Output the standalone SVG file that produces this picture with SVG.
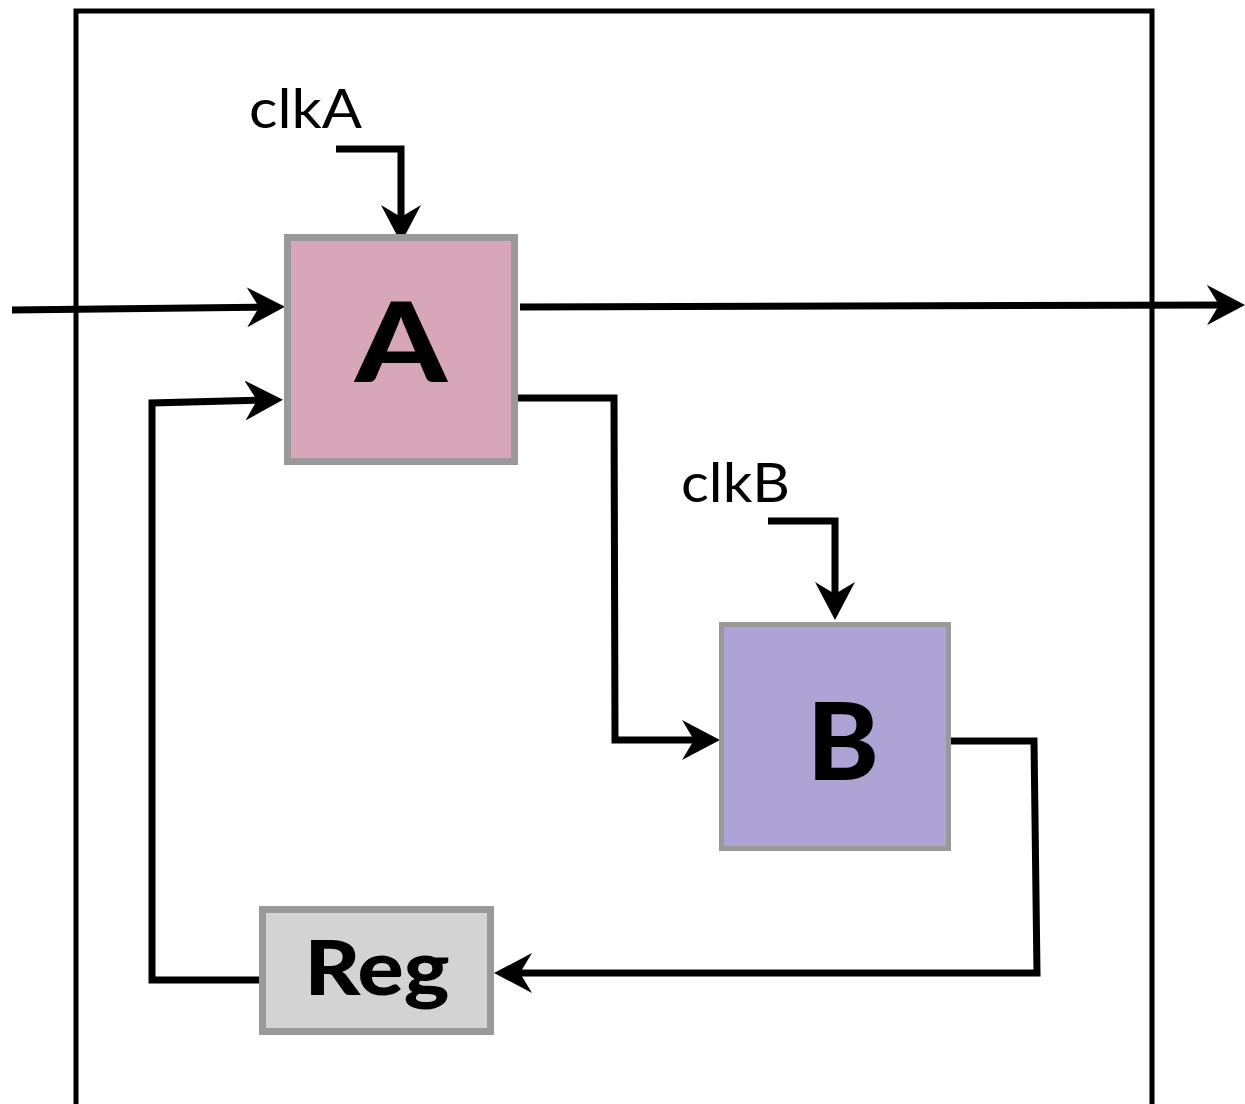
<svg xmlns="http://www.w3.org/2000/svg" width="1245" height="1104" viewBox="0 0 1245 1104">
  <style>
    .wire { fill: none; stroke: #000; stroke-width: 7; stroke-linejoin: miter; }
    .arrow { marker-end: url(#head); }
    .block { stroke: #999; }
    .big { font-family: Lato, "Open Sans", sans-serif; font-weight: 900; fill: #000; text-anchor: middle; }
    .clk { font-family: Lato, "Open Sans", sans-serif; font-size: 55px; fill: #000; }
  </style>
  <defs>
    <!-- concave arrowhead; the tip sits 14px past the wire end -->
    <marker id="head" markerUnits="userSpaceOnUse" viewBox="0 0 38 40" markerWidth="38" markerHeight="40" refX="24" refY="20" orient="auto">
      <path d="M38,20 L0,0 L12,20 L0,40 Z" fill="#000"/>
    </marker>
  </defs>

  <rect width="1245" height="1104" fill="#fff"/>

  <!-- enclosing frame, open at the bottom -->
  <path d="M76,1110 L76,11 L1152,11 L1152,1110" fill="none" stroke="#000" stroke-width="5"/>

  <g id="connectors">
    <!-- primary input into A -->
    <path class="wire arrow" d="M12,310 L271,307"/>
    <!-- output of A leaving the frame -->
    <path class="wire arrow" d="M520,307 L1231,305"/>
    <!-- clock A -->
    <path class="wire arrow" d="M336,149 L401,149 L401,229"/>
    <!-- A to B -->
    <path class="wire arrow" d="M515,398 L614,398 L615,740 L706,740"/>
    <!-- clock B -->
    <path class="wire arrow" d="M768,521 L835,521 L835,606"/>
    <!-- B back through Reg -->
    <path class="wire arrow" d="M950,741 L1034,741 L1037,973 L508,973"/>
    <!-- Reg feeding A -->
    <path class="wire arrow" d="M259,980 L152,980 L152,403 L269,400"/>
  </g>

  <g id="node-A">
    <rect class="block" x="287.5" y="237.5" width="227" height="224" fill="#d7a6b9" stroke-width="7"/>
    <text class="big" x="401" y="382" font-size="110" textLength="92" lengthAdjust="spacingAndGlyphs">A</text>
  </g>

  <g id="node-B">
    <rect class="block" x="721.5" y="624.5" width="227" height="224" fill="#aea3d4" stroke-width="5"/>
    <text class="big" x="843" y="780" font-size="106" textLength="72" lengthAdjust="spacingAndGlyphs">B</text>
  </g>

  <g id="node-Reg">
    <rect class="block" x="262.5" y="909.5" width="228" height="122" fill="#d3d3d3" stroke-width="7"/>
    <text class="big" x="377" y="995" font-size="76" textLength="145" lengthAdjust="spacingAndGlyphs">Reg</text>
  </g>

  <g id="label-clkA">
    <text class="clk" x="249" y="128" textLength="113" lengthAdjust="spacingAndGlyphs">clkA</text>
  </g>
  <g id="label-clkB">
    <text class="clk" x="681" y="502" textLength="109" lengthAdjust="spacingAndGlyphs">clkB</text>
  </g>
</svg>
